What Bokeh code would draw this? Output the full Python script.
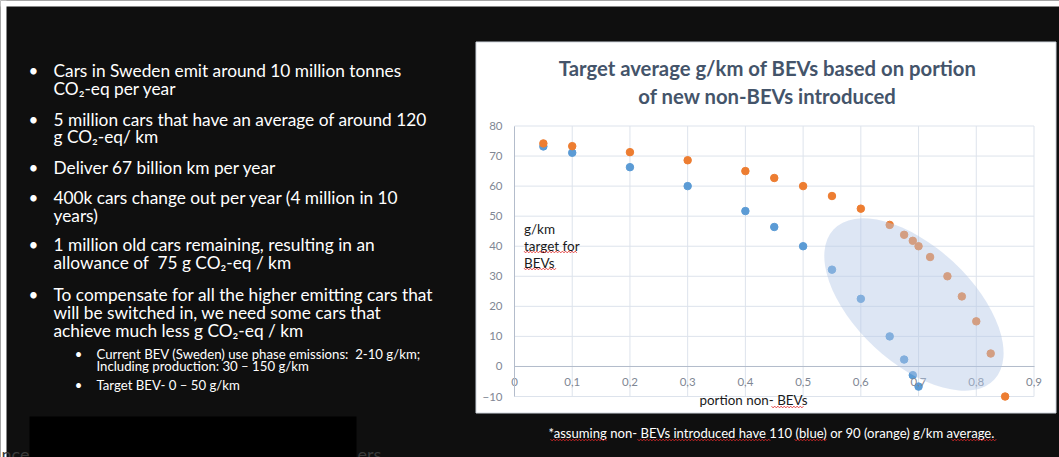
import numpy as np
from bokeh.plotting import figure
from bokeh.models import LinearAxis, FixedTicker, CustomJSTickFormatter, Range1d
from bokeh.core.properties import value
from bokeh.embed import file_html
from bokeh.resources import INLINE

# ---- chart data -------------------------------------------------------------
portion_blue = [0.05, 0.1, 0.2, 0.3, 0.4, 0.45, 0.5, 0.55, 0.6, 0.65, 0.675, 0.69, 0.70]
target_blue = [73.2, 71.1, 66.3, 60.0, 51.7, 46.4, 40.0, 32.2, 22.5, 10.0, 2.3, -2.9, -6.7]

portion_orange = [0.05, 0.1, 0.2, 0.3, 0.4, 0.45, 0.5, 0.55, 0.6, 0.65, 0.675, 0.69,
                  0.70, 0.72, 0.75, 0.775, 0.8, 0.825, 0.85]
target_orange = [74.2, 73.3, 71.3, 68.6, 65.0, 62.7, 60.0, 56.7, 52.5, 47.1, 43.8, 41.8,
                 40.0, 36.4, 30.0, 23.3, 15.0, 4.3, -10.0]

x_ticks = [0.0, 0.1, 0.2, 0.3, 0.4, 0.5, 0.6, 0.7, 0.8, 0.9]
y_ticks = [-10, 0, 10, 20, 30, 40, 50, 60, 70, 80]

title_lines = ["Target average g/km of BEVs based on portion", "of new non-BEVs introduced"]
y_label_lines = ["g/km", "target for", "BEVs"]
x_label = "portion non- BEVs"
caption = "*assuming non- BEVs introduced have 110 (blue) or 90 (orange) g/km average."

bullets = [
    ("main", ["Cars in Sweden emit around 10 million tonnes", "CO\u2082-eq per year"]),
    ("main", ["5 million cars that have an average of around 120", "g CO\u2082-eq/ km"]),
    ("main", ["Deliver 67 billion km per year"]),
    ("main", ["400k cars change out per year (4 million in 10", "years)"]),
    ("main", ["1 million old cars remaining, resulting in an", "allowance of\u00a0\u00a075 g CO\u2082-eq / km"]),
    ("main", ["To compensate for all the higher emitting cars that",
              "will be switched in, we need some cars that",
              "achieve much less g CO\u2082-eq / km"]),
    ("sub", ["Current BEV (Sweden) use phase emissions:\u00a0\u00a02-10 g/km;",
             "Including production: 30 \u2013 150 g/km"]),
    ("sub", ["Target BEV- 0 \u2013 50 g/km"]),
]
bullet_baselines = [[75.3, 94.0], [124.3, 141.7], [172.3], [202.7, 220.5],
                    [249.3, 268.0], [299.3, 317.3, 335.3], [357.5, 369.5], [388.5]]

# ---- colours / fonts ----------------------------------------------------------
BG = "#0f0f0f"
BLUE = "#5b9bd5"
ORANGE = "#ed7d31"
GRID = "#dde3ec"
AXIS = "#b3bccb"
TICK = "#7f8794"
FONT = "Lato"

W, H = 1059, 457
# pixel geometry of the plotting area on the slide
PX_X0, PX_X1 = 514.0, 1033.5      # x = 0 and x = 0.9
PX_Y80, PX_YM10 = 125.5, 396.0    # y = 80 and y = -10
kx = (PX_X1 - PX_X0) / (x_ticks[-1] - x_ticks[0])
ky = (PX_YM10 - PX_Y80) / (y_ticks[-1] - y_ticks[0])
x_start = x_ticks[0] - PX_X0 / kx
y_top = y_ticks[-1] + PX_Y80 / ky


def sx(px):
    return x_start + np.asarray(px, dtype=float) / kx


def sy(py):
    return y_top - np.asarray(py, dtype=float) / ky


p = figure(width=W, height=H,
           x_range=Range1d(x_start, x_start + W / kx),
           y_range=Range1d(y_top - H / ky, y_top),
           x_axis_type=None, y_axis_type=None,
           toolbar_location=None, output_backend="svg",
           min_border=0, background_fill_color=BG, border_fill_color=BG,
           outline_line_color=None)


def put(txt, px, base, size, color, align="left", style="normal"):
    # base is the text baseline in slide pixels; the glyph sits a little low,
    # so lift it by a third of the font size
    py = base - 0.33 * size
    p.text(x=[float(sx(px))], y=[float(sy(py))], text=[txt], text_font=value(FONT),
           text_font_size=f"{size}px", text_color=color, text_align=align,
           text_baseline="alphabetic", text_font_style=style)


def squiggle(px0, px1, py):
    xs = np.arange(px0, px1 + 0.01, 1.6)
    ys = py + np.where(np.arange(len(xs)) % 2 == 0, -0.9, 0.9)
    p.line(sx(xs), sy(ys), line_color="#e02b2b", line_width=0.8)


# white frame edge of the slide image
p.quad(left=[float(sx(0))], right=[float(sx(W))], top=[float(sy(0))], bottom=[float(sy(6))],
       fill_color="white", line_color=None)
p.quad(left=[float(sx(0))], right=[float(sx(6))], top=[float(sy(0))], bottom=[float(sy(H))],
       fill_color="white", line_color=None)

# ---- bullet text -------------------------------------------------------------
for (kind, lines), bls in zip(bullets, bullet_baselines):
    if kind == "main":
        put("\u2022", 33, bls[0], 17, "white", align="center")
        for t, b in zip(lines, bls):
            put(t, 53, b, 17.3, "white")
    else:
        put("\u2022", 78, bls[0], 13, "white", align="center")
        for t, b in zip(lines, bls):
            put(t, 96, b, 13.2, "white")

# footer fragments partly hidden behind the black box
put("nce", 29, 459, 18, "#3a3a3a", align="right")
put("ers", 357, 459, 18, "#3a3a3a")
p.quad(left=[float(sx(29))], right=[float(sx(356))], top=[float(sy(416))], bottom=[float(sy(H + 5))],
       fill_color="black", line_color=None)

# ---- chart panel ---------------------------------------------------------------
p.quad(left=[float(sx(475.5))], right=[float(sx(1055.5))], top=[float(sy(41.5))],
       bottom=[float(sy(412.5))], fill_color="white", line_color="#cfd5dd", line_width=1)

for i, t in enumerate(title_lines):
    put(t, 767, 74.3 + 27.4 * i, 20.3, "#44546a", align="center", style="bold")

# gridlines
nx, ny = len(x_ticks), len(y_ticks)
p.segment(x0=x_ticks, y0=[y_ticks[0]] * nx, x1=x_ticks, y1=[y_ticks[-1]] * nx,
          line_color=GRID, line_width=1)
p.segment(x0=[x_ticks[0]] * ny, y0=y_ticks, x1=[x_ticks[-1]] * ny, y1=y_ticks,
          line_color=GRID, line_width=1)

# axes crossing at the origin
xaxis = LinearAxis(fixed_location=0, bounds=(x_ticks[0], x_ticks[-1]),
                   ticker=FixedTicker(ticks=x_ticks),
                   formatter=CustomJSTickFormatter(
                       code="return tick == 0 ? '0' : tick.toFixed(1).replace('.', ',')"),
                   axis_line_color=AXIS, major_tick_line_color=None, minor_tick_line_color=None,
                   major_tick_in=0, major_tick_out=0,
                   major_label_text_color=TICK, major_label_text_font=FONT,
                   major_label_text_font_size="11.5px", major_label_standoff=12)
yaxis = LinearAxis(fixed_location=0, bounds=(y_ticks[0], y_ticks[-1]),
                   ticker=FixedTicker(ticks=y_ticks),
                   axis_line_color=AXIS, major_tick_line_color=None, minor_tick_line_color=None,
                   major_tick_in=0, major_tick_out=0,
                   major_label_text_color=TICK, major_label_text_font=FONT,
                   major_label_text_font_size="11.5px", major_label_standoff=12)
p.add_layout(xaxis, "below")
p.add_layout(yaxis, "left")

# series
p.scatter(portion_blue, target_blue, size=7.5, fill_color=BLUE, line_color=BLUE)
p.scatter(portion_orange, target_orange, size=7.5, fill_color=ORANGE, line_color=ORANGE)

# highlighted region
p.ellipse(x=[0.692], y=[20.6], width=[220], height=[116], angle=[-43], angle_units="deg",
          width_units="screen", height_units="screen",
          fill_color="#b4c7e7", fill_alpha=0.45, line_color=None, level="overlay")

# axis titles
for i, t in enumerate(y_label_lines):
    put(t, 523.5, 232.5 + 17 * i, 13.5, "#1a1a1a")
squiggle(523.5, 577, 251.5)
squiggle(523.5, 556, 268.5)
put(x_label, 699, 404, 13.4, "#1a1a1a")
squiggle(771, 804, 406.5)

# footnote
put(caption, 771, 436.7, 13.1, "white", align="center")
squiggle(550, 606, 439.5)
squiggle(637, 770, 439.5)
squiggle(794, 826, 439.5)
squiggle(951, 996, 439.5)

open("out.html", "w").write(file_html(p, INLINE))
